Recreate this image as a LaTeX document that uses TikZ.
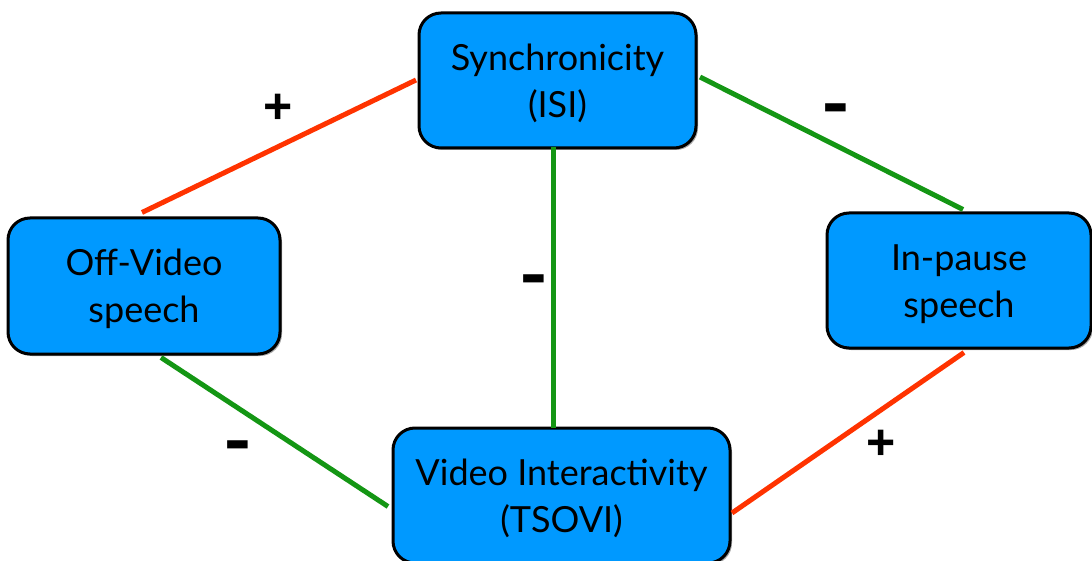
\documentclass[tikz,border=0pt]{standalone}
\usepackage{fontspec}
\setmainfont{Lato}
\newfontfamily\signfont{Liberation Sans}
\usetikzlibrary{shadows}
\definecolor{boxblue}{RGB}{0,153,255}
\definecolor{linered}{RGB}{255,51,0}
\definecolor{linegreen}{RGB}{20,150,20}
\newcommand\boxlines[2]{\raisebox{-4pt}[\height][\depth]{\begin{tabular}{@{}c@{}}#1\\#2\end{tabular}}}
\tikzset{
  conceptbox/.style={draw=black, line width=3pt, fill=boxblue, rounded corners=22pt,
    align=center, inner sep=0pt, font=\fontsize{36}{47}\selectfont,
    drop shadow={shadow xshift=2pt, shadow yshift=-2pt, opacity=0.35, fill=black}},
  poslink/.style={draw=linered, line width=5pt},
  neglink/.style={draw=linegreen, line width=5pt},
  plussign/.style={font=\signfont\bfseries\fontsize{50}{50}\selectfont, inner sep=0pt},
  minussign/.style={font=\signfont\bfseries\fontsize{62}{62}\selectfont, inner sep=0pt},
}
\begin{document}
\begin{tikzpicture}[x=1pt,y=-1pt]
\useasboundingbox (0,0) rectangle (1092,561);
\begin{scope}
\clip (0,0) rectangle (1092,561);
\node[conceptbox, minimum width=277pt, minimum height=135pt] (sync) at (557.5,80.5) {\boxlines{Synchronicity}{(ISI)}};
\node[conceptbox, minimum width=272pt, minimum height=136pt] (off) at (144,286) {\boxlines{Off-Video}{speech}};
\node[conceptbox, minimum width=264pt, minimum height=135pt] (inp) at (959,280.5) {\boxlines{In-pause}{speech}};
\node[conceptbox, minimum width=337pt, minimum height=135pt] (tsovi) at (561.5,495.5) {\boxlines{Video Interactivity}{(TSOVI)}};

\coordinate (a1) at (416,80);
\coordinate (a2) at (142,212.5);
\coordinate (b1) at (700,77);
\coordinate (b2) at (963,209.5);
\coordinate (c1) at (553,147);
\coordinate (c2) at (553,428);
\coordinate (d1) at (161,357.5);
\coordinate (d2) at (388,506.5);
\coordinate (e1) at (964,352.5);
\coordinate (e2) at (732,513);

\draw[poslink] (a1) -- (a2);
\draw[neglink] (b1) -- (b2);
\draw[neglink] (c1) -- (c2);
\draw[neglink] (d1) -- (d2);
\draw[poslink] (e1) -- (e2);

\node[plussign] (p1) at (278,109) {+};
\node[plussign] (p2) at (881,445) {+};
\node[minussign] (m1) at (836,115) {\scalebox{1.3}[1.1]{-}};
\node[minussign] (m2) at (534,286) {\scalebox{1.3}[1.1]{-}};
\node[minussign] (m3) at (238,452) {\scalebox{1.3}[1.1]{-}};
\end{scope}
\end{tikzpicture}
\end{document}
